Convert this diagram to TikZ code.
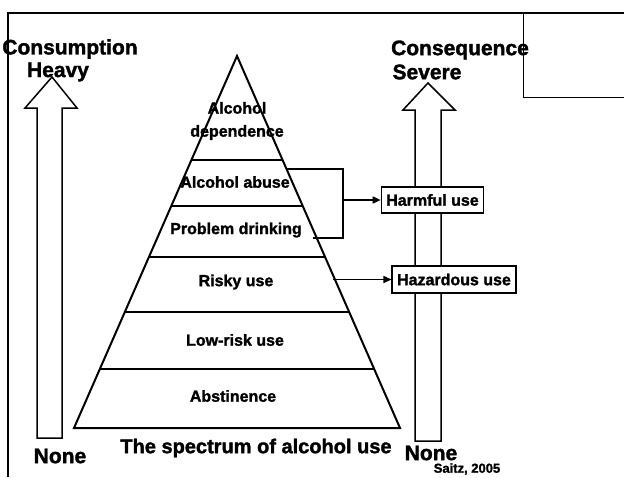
\documentclass[tikz,border=0pt]{standalone}
\usepackage{fontspec}
\setmainfont{Liberation Sans}[BoldFeatures={FakeBold=1.6}]
\usetikzlibrary{arrows.meta,calc}

\begin{document}
\begin{tikzpicture}[x=1pt, y=-1pt, line width=1.5pt,
  big/.style={font=\bfseries\fontsize{21}{23}\selectfont, inner sep=0pt},
  lvl/.style={font=\bfseries\fontsize{16}{23}\selectfont, inner sep=0pt, align=center},
  usebox/.style={draw, fill=white, line width=1.2pt, font=\bfseries\fontsize{16}{18}\selectfont,
    inner xsep=5pt, inner ysep=0pt, minimum height=26pt},
  link/.style={-{Triangle[length=8pt,width=7pt]}, line width=1.5pt}]
  \useasboundingbox (0,0) rectangle (624,477);

  % frame
  \draw[line width=2.5pt] (8,477) -- (8,13) -- (624,13);
  \draw[line width=1pt] (523,13) -- (523,97) -- (624,97);

  % consumption / consequence arrows
  \draw (37,438) -- (37,108) -- (25,108) -- (52,77) -- (77,108) -- (62,108) -- (62,438) -- cycle;
  \draw (415,441) -- (415,110) -- (403,110) -- (428,83) -- (455,110) -- (441,110) -- (441,441) -- cycle;

  \node[big] (cons) at (70,49) {Consumption};
  \node[big] (heavy) at (58,72) {Heavy};
  \node[big] (noneL) at (60,456) {None};
  \node[big] (conq) at (460,50) {Consequence};
  \node[big] (severe) at (427,72) {Severe};
  \node[big] (noneR) at (431,453) {None};

  % pyramid
  \coordinate (T) at (237,56);
  \coordinate (BL) at (74,428);
  \coordinate (BR) at (400,428);
  \draw[line width=2pt, line join=miter] (BL) -- (T) -- (BR) -- cycle;
  \foreach \f in {0.28,0.403,0.54,0.688,0.841}
    \draw[line width=2pt] ($(T)!\f!(BL)$) -- ($(T)!\f!(BR)$);

  \node[lvl] (dep) at (237,121) {Alcohol\\dependence};
  \node[lvl] (abuse) at (235,182) {Alcohol abuse};
  \node[lvl] (prob) at (236,230) {Problem drinking};
  \node[lvl] (risky) at (236,282) {Risky use};
  \node[lvl] (low) at (235,340) {Low-risk use};
  \node[lvl] (abst) at (233,396) {Abstinence};
  \node[big, font=\bfseries\fontsize{20}{22}\selectfont] (title) at (256,448) {The spectrum of alcohol use};

  % harmful / hazardous
  \node[usebox] (harm) at (432.5,200) {Harmful use};
  \node[usebox, minimum height=27pt] (haz) at (454,279.5) {Hazardous use};

  \draw[line width=1.5pt] (287,169) -| (343,238) -- (313,238);
  \coordinate (brk) at (343,200);
  \coordinate (rsk) at (333,279.5);
  \draw[link] (brk) -- (harm);
  \draw[link] (rsk) -- (haz);

  \node[font=\bfseries\fontsize{13}{15}\selectfont, inner sep=0pt] (ref) at (467,469) {Saitz, 2005};
\end{tikzpicture}
\end{document}
